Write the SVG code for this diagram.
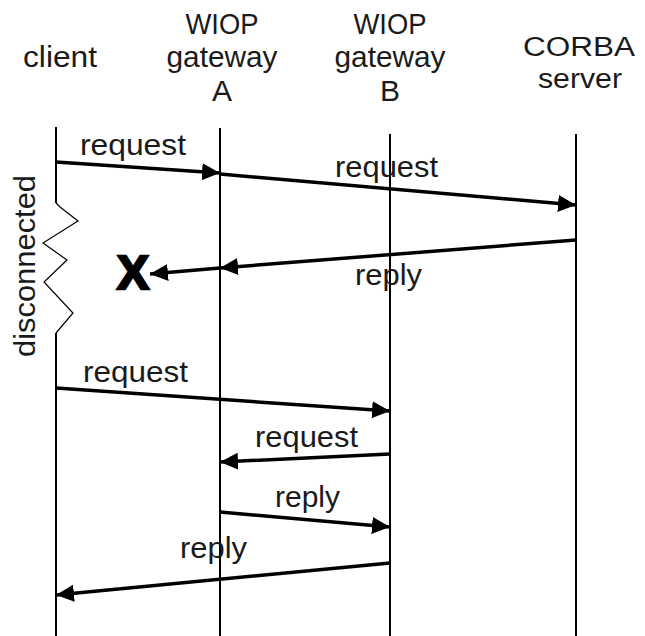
<svg xmlns="http://www.w3.org/2000/svg" width="645" height="636" viewBox="0 0 645 636">
<style>
  .t { font-family: "Liberation Sans", Arial, sans-serif; font-size: 30px; fill: #1a1a1a; }
  .s { font-size: 27px; }
  .c { text-anchor: middle; }
  .life { stroke: #000; stroke-width: 2; fill: none; }
  .zig { stroke: #000; stroke-width: 1.2; fill: none; }
  .msg { stroke: #000; stroke-width: 3.5; fill: none; marker-end: url(#ah); }
</style>
<defs>
  <marker id="ah" markerUnits="userSpaceOnUse" markerWidth="19" markerHeight="18" refX="18" refY="8.5" orient="auto">
    <path d="M0,0 L18,8.5 L0,17 z" fill="#000"/>
  </marker>
</defs>
<rect width="645" height="636" fill="#fff"/>

<g id="client">
  <text class="t c" x="60" y="67" textLength="74" lengthAdjust="spacingAndGlyphs">client</text>
  <path class="life" d="M56,127 L56,203"/>
  <path class="zig" d="M56,203 L60,207 L78,221 L43,243 L67,260 L44,282 L73,313 L56,333"/>
  <path class="life" d="M56,333 L56,636"/>
  <text class="t c" transform="translate(35,266) rotate(-90)" textLength="182" lengthAdjust="spacingAndGlyphs">disconnected</text>
</g>

<g id="gatewayA">
  <text class="t c" x="222" y="34" textLength="73" lengthAdjust="spacingAndGlyphs">WIOP</text>
  <text class="t c" x="222" y="67" textLength="111" lengthAdjust="spacingAndGlyphs">gateway</text>
  <text class="t c" x="222" y="101">A</text>
  <path class="life" d="M220,128 L220,636"/>
</g>

<g id="gatewayB">
  <text class="t c" x="390" y="34" textLength="73" lengthAdjust="spacingAndGlyphs">WIOP</text>
  <text class="t c" x="390" y="67" textLength="111" lengthAdjust="spacingAndGlyphs">gateway</text>
  <text class="t c" x="390" y="101">B</text>
  <path class="life" d="M390,134 L390,636"/>
</g>

<g id="corba">
  <text class="t s c" x="579" y="56" textLength="112" lengthAdjust="spacingAndGlyphs">CORBA</text>
  <text class="t s c" x="580" y="88" textLength="84" lengthAdjust="spacingAndGlyphs">server</text>
  <path class="life" d="M576,134 L576,636"/>
</g>

<g id="lost">
  <text x="133" y="289" text-anchor="middle" font-family="Liberation Sans, Arial, sans-serif" font-weight="bold" font-size="48" fill="#000" stroke="#000" stroke-width="2.5">X</text>
</g>

<g id="connectors">
  <path class="msg" d="M56,162 L220,173"/>
  <path class="msg" d="M220,174 L576,205"/>
  <path class="msg" d="M576,240 L220,268"/>
  <path class="msg" d="M220,268 L150,274"/>
  <path class="msg" d="M56,388 L390,411"/>
  <path class="msg" d="M390,454 L220,462"/>
  <path class="msg" d="M220,512 L390,527"/>
  <path class="msg" d="M390,563 L56,595"/>
</g>

<g id="labels">
  <text class="t" x="80" y="155" textLength="106" lengthAdjust="spacingAndGlyphs">request</text>
  <text class="t" x="335" y="177" textLength="103" lengthAdjust="spacingAndGlyphs">request</text>
  <text class="t" x="355" y="285" textLength="67" lengthAdjust="spacingAndGlyphs">reply</text>
  <text class="t" x="83" y="382" textLength="105" lengthAdjust="spacingAndGlyphs">request</text>
  <text class="t" x="255" y="447" textLength="103" lengthAdjust="spacingAndGlyphs">request</text>
  <text class="t" x="275" y="507" textLength="65" lengthAdjust="spacingAndGlyphs">reply</text>
  <text class="t" x="180" y="558" textLength="67" lengthAdjust="spacingAndGlyphs">reply</text>
</g>
</svg>
